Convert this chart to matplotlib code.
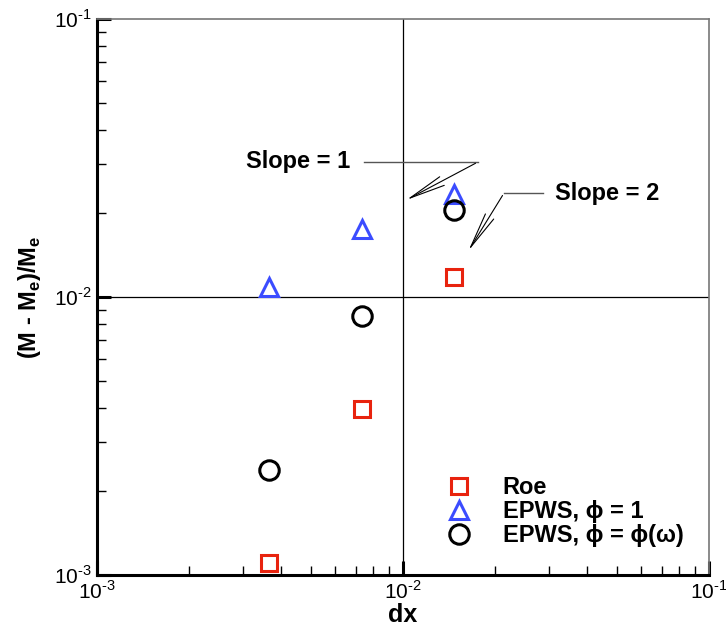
import matplotlib
matplotlib.use('Agg')
import matplotlib.pyplot as plt
from matplotlib.ticker import FuncFormatter
import numpy as np

plt.rcParams['font.family'] = ['Liberation Sans', 'DejaVu Sans']
plt.rcParams['mathtext.fontset'] = 'custom'
plt.rcParams['mathtext.rm'] = 'Liberation Sans'
plt.rcParams['mathtext.bf'] = 'Liberation Sans:bold'

# grid spacing (halved each refinement)
dx = [0.00366, 0.00732, 0.01464]

# relative error of M
roe = [0.00110, 0.00395, 0.0118]
epws_phi1 = [0.01087, 0.0176, 0.0235]
epws_phiw = [0.00239, 0.00855, 0.0206]

labels = ['Roe', 'EPWS, ϕ = 1', 'EPWS, ϕ = ϕ(ω)']

fig = plt.figure(figsize=(7.26, 6.29), dpi=100)
ax = fig.add_axes([0.1336, 0.0859, 0.843, 0.8839])

ax.plot(dx, roe, 's', ms=11, mfc='none', mec='#e8230e', mew=2.2, label=labels[0])
ax.plot(dx, epws_phi1, '^', ms=13, mfc='none', mec='#3b4cff', mew=2.2, label=labels[1])
ax.plot(dx, epws_phiw, 'o', ms=14, mfc='none', mec='black', mew=2.2, label=labels[2])

ax.set_xscale('log')
ax.set_yscale('log')
ax.set_xlim(1e-3, 1e-1)
ax.set_ylim(1e-3, 1e-1)

# tick labels like 10^-2 with a short hyphen
def pow_label(v, pos):
    return r'10$^{\text{-%d}}$' % round(-np.log10(v))
ax.xaxis.set_major_formatter(FuncFormatter(pow_label))
ax.yaxis.set_major_formatter(FuncFormatter(pow_label))

# reference lines at 10^-2
ax.axvline(1e-2, color='black', lw=0.9, zorder=0)
ax.axhline(1e-2, color='black', lw=0.9, zorder=0)

# spines and ticks
ax.spines['left'].set_linewidth(2.2)
ax.spines['bottom'].set_linewidth(2.2)
ax.spines['top'].set_color('#777777')
ax.spines['right'].set_color('#777777')
ax.spines['top'].set_linewidth(1.2)
ax.spines['right'].set_linewidth(1.2)
ax.tick_params(which='both', direction='in', top=False, right=False)
ax.tick_params(which='major', length=10, width=2.2, labelsize=15, pad=4)
ax.tick_params(which='minor', length=6.5, width=1.0)

ax.set_xlabel('dx', fontsize=18, fontweight='bold', labelpad=0)
ax.set_ylabel(r'(M - M$_\mathbf{e}$)/M$_\mathbf{e}$', fontsize=17,
              fontweight='bold', labelpad=8)

# slope annotations
arrow = dict(arrowstyle='->,head_length=2.6,head_width=0.35', color='black', lw=0.8)
ax.text(0.00671, 0.0306, 'Slope = 1', fontsize=17, fontweight='bold',
        ha='right', va='center')
ax.plot([0.00747, 0.01758], [0.0306, 0.0306], color='#555555', lw=1.0)
ax.annotate('', xy=(0.01007, 0.0221), xytext=(0.01758, 0.0306), arrowprops=arrow)

ax.text(0.0314, 0.02364, 'Slope = 2', fontsize=17, fontweight='bold',
        ha='left', va='center')
ax.plot([0.02138, 0.02868], [0.02364, 0.02364], color='#555555', lw=1.0)
ax.annotate('', xy=(0.01618, 0.01438), xytext=(0.02138, 0.02364), arrowprops=arrow)

leg = ax.legend(loc='lower right', bbox_to_anchor=(0.985, 0.02), frameon=False,
                prop={'size': 17, 'weight': 'bold'}, handletextpad=0.85,
                labelspacing=0.05, borderaxespad=0.3)

fig.savefig('out.png', dpi=100)
